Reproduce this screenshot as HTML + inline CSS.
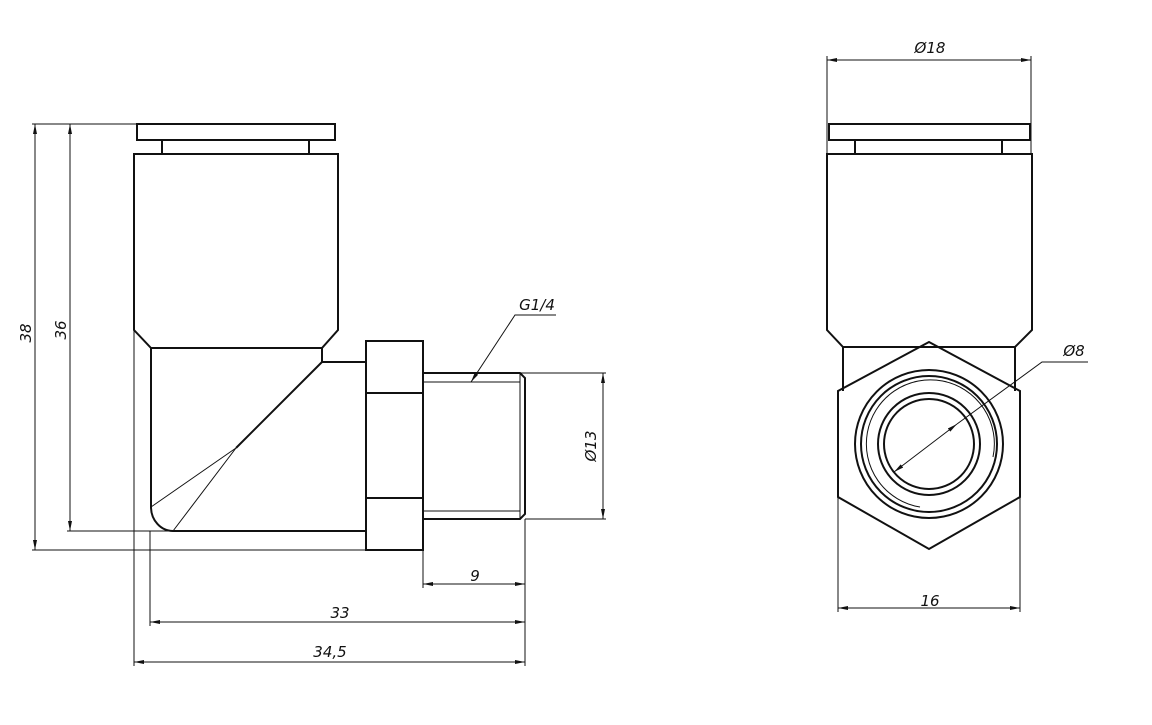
<!DOCTYPE html>
<html><head><meta charset="utf-8"><style>
html,body{margin:0;padding:0;background:#fff;}
svg{display:block}
text{font-family:"DejaVu Sans","Liberation Sans",sans-serif;font-style:italic;font-size:15px;fill:#111;}
.t{stroke:#111;stroke-width:2;fill:none}
.n{stroke:#111;stroke-width:1;fill:none}
</style></head><body>
<svg width="1152" height="725" viewBox="0 0 1152 725" xmlns="http://www.w3.org/2000/svg">
<defs>
<marker id="a" viewBox="0 0 10 4" refX="10" refY="2" markerWidth="10" markerHeight="4" orient="auto-start-reverse" markerUnits="userSpaceOnUse"><path d="M0,0 L10,2 L0,4z" fill="#111"/></marker>
</defs>
<!-- LEFT VIEW -->
<rect class="t" x="137" y="124" width="198" height="16"/>
<path class="t" d="M162,140 V154 M309,140 V154"/>
<path class="t" d="M134,154 H338 V330 L322,348 H151 L134,330 Z"/>
<path class="t" d="M151,348 V507 A22,24 0 0 0 173,531 H366 M322,348 V362 H366 M322,362 L236,448"/>
<path class="n" d="M236,448 L151,507 M236,448 L173,531"/>
<rect class="t" x="366" y="341" width="57" height="209"/>
<path class="t" d="M366,393 H423 M366,498 H423"/>
<path class="t" d="M423,373 H520 L525,378 V514 L520,519 H423"/>
<path class="n" d="M423,382 H520 M423,511 H520 M520,373 V519"/>
<!-- left dims -->
<path class="n" d="M32,124 H137 M32,550 H366 M67,531 H173"/>
<path class="n" d="M35,124 V550" marker-start="url(#a)" marker-end="url(#a)"/>
<path class="n" d="M70,124 V531" marker-start="url(#a)" marker-end="url(#a)"/>
<text transform="translate(31,333) rotate(-90)" text-anchor="middle">38</text>
<text transform="translate(66,330) rotate(-90)" text-anchor="middle">36</text>
<path class="n" d="M134,154 V666 M150,531 V626 M525,519 V666 M423,519 V588 M520,373 H606 M525,519 H606"/>
<path class="n" d="M423,584 H525" marker-start="url(#a)" marker-end="url(#a)"/>
<path class="n" d="M150,622 H525" marker-start="url(#a)" marker-end="url(#a)"/>
<path class="n" d="M134,662 H525" marker-start="url(#a)" marker-end="url(#a)"/>
<text x="475" y="581" text-anchor="middle">9</text>
<text x="340" y="618" text-anchor="middle">33</text>
<text x="330" y="657" text-anchor="middle">34,5</text>
<path class="n" d="M603,373 V519" marker-start="url(#a)" marker-end="url(#a)"/>
<text transform="translate(596,446) rotate(-90)" text-anchor="middle">Ø13</text>
<path class="n" d="M556,315 H515 L471,382" marker-end="url(#a)"/>
<text x="537" y="310" text-anchor="middle">G1/4</text>
<!-- RIGHT VIEW -->
<rect class="t" x="829" y="124" width="201" height="16"/>
<path class="t" d="M855,140 V154 M1002,140 V154"/>
<path class="t" d="M827,154 H1032 V330 L1015,347 H843 L827,330 Z"/>
<path class="t" d="M843,347 V391 M1015,347 V391"/>
<path class="t" d="M929,342 L1020,391 V497 L929,549 L838,497 V391 Z"/>
<circle class="t" cx="929" cy="444" r="74"/>
<circle class="t" cx="929" cy="444" r="68"/>
<path class="n" d="M993,457 A64,64 0 1 0 920,507"/>
<circle class="t" cx="929" cy="444" r="51"/>
<circle class="t" cx="929" cy="444" r="45"/>
<path class="n" d="M838,497 V612 M1020,497 V612 M827,56 V154 M1031,56 V154"/>
<path class="n" d="M838,608 H1020" marker-start="url(#a)" marker-end="url(#a)"/>
<text x="930" y="606" text-anchor="middle">16</text>
<path class="n" d="M827,60 H1031" marker-start="url(#a)" marker-end="url(#a)"/>
<text x="930" y="53" text-anchor="middle">Ø18</text>
<path class="n" d="M894,472 L957,424" marker-start="url(#a)" marker-end="url(#a)"/>
<path class="n" d="M957,424 L1042,362 H1088"/>
<text x="1074" y="356" text-anchor="middle">Ø8</text>
</svg>
</body></html>
